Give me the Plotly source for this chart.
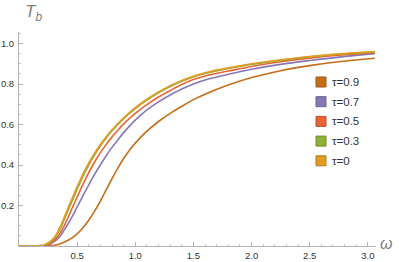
import plotly.graph_objects as go

# ---- data ----
omega = [0, 0.1, 0.2, 0.25, 0.3, 0.35, 0.4, 0.45, 0.5, 0.55, 0.6, 0.65, 0.7, 0.75, 0.8,
         0.85, 0.9, 0.95, 1.0, 1.1, 1.2, 1.3, 1.4, 1.5, 1.6, 1.8, 2.0, 2.25, 2.5, 2.75, 3.06]

T_tau0 = [0, 0, 0.004, 0.015, 0.040, 0.090, 0.157, 0.226, 0.292, 0.355, 0.410, 0.458,
          0.501, 0.540, 0.574, 0.605, 0.633, 0.659, 0.683, 0.725, 0.761, 0.792, 0.818,
          0.839, 0.856, 0.880, 0.900, 0.920, 0.936, 0.949, 0.961]
T_tau03 = [0, 0, 0.003, 0.013, 0.035, 0.080, 0.145, 0.213, 0.280, 0.344, 0.400, 0.450,
           0.494, 0.534, 0.569, 0.600, 0.629, 0.655, 0.679, 0.721, 0.757, 0.788, 0.814,
           0.835, 0.852, 0.877, 0.897, 0.917, 0.934, 0.947, 0.959]
T_tau05 = [0, 0, 0.002, 0.009, 0.027, 0.060, 0.113, 0.178, 0.242, 0.304, 0.363, 0.415,
           0.461, 0.502, 0.539, 0.572, 0.603, 0.630, 0.655, 0.698, 0.736, 0.768, 0.798,
           0.822, 0.840, 0.864, 0.887, 0.910, 0.928, 0.942, 0.955]
T_tau07 = [0, 0, 0.001, 0.006, 0.020, 0.046, 0.089, 0.138, 0.193, 0.248, 0.302, 0.354,
           0.401, 0.446, 0.487, 0.524, 0.560, 0.592, 0.622, 0.672, 0.712, 0.746, 0.775,
           0.800, 0.820, 0.848, 0.873, 0.897, 0.916, 0.933, 0.950]
T_tau09 = [0, 0, 0, 0.002, 0.004, 0.010, 0.022, 0.038, 0.060, 0.090, 0.127, 0.172,
           0.222, 0.278, 0.333, 0.385, 0.432, 0.473, 0.508, 0.567, 0.615, 0.655, 0.690,
           0.723, 0.750, 0.795, 0.832, 0.866, 0.891, 0.910, 0.927]

series_names = ["τ=0", "τ=0.3", "τ=0.5", "τ=0.7", "τ=0.9"]
series_values = [T_tau0, T_tau03, T_tau05, T_tau07, T_tau09]
colors = ["#E19C24", "#8FB032", "#EB6235", "#8778B3", "#C56E1A"]
edge_colors = ["#B47D1D", "#728D28", "#BC4E2A", "#6C608F", "#9E5815"]

x_tickvals = [0.5, 1.0, 1.5, 2.0, 2.5, 3.0]
x_ticktext = ["0.5", "1.0", "1.5", "2.0", "2.5", "3.0"]
y_tickvals = [0.2, 0.4, 0.6, 0.8, 1.0]
y_ticktext = ["0.2", "0.4", "0.6", "0.8", "1.0"]

# ---- layout geometry (pixels) ----
W, H = 399, 262
L, R, T, B = 19, 23, 32, 16
pw, ph = W - L - R, H - T - B

fig = go.Figure()
# draw τ=0.9 first so that τ=0 ends on top (as in reference)
for name, vals, col in reversed(list(zip(series_names, series_values, colors))):
    fig.add_trace(go.Scatter(x=omega, y=vals, mode="lines", name=name,
                             line=dict(color=col, width=1.6, shape="spline", smoothing=1.0),
                             showlegend=False))

def px2px(xp):
    return (xp - L) / pw

def py2py(yp):
    return (H - B - yp) / ph

# manual legend (top to bottom: τ=0.9 ... τ=0)
legend_order = list(reversed(range(len(series_names))))
for i, k in enumerate(legend_order):
    cy = 82 + i * 19.7
    fig.add_shape(type="rect", xref="paper", yref="paper",
                  x0=px2px(316), x1=px2px(326), y0=py2py(cy + 5), y1=py2py(cy - 5),
                  fillcolor=colors[k], line=dict(color=edge_colors[k], width=1))
    fig.add_annotation(xref="paper", yref="paper", x=px2px(330), y=py2py(cy),
                       xanchor="left", yanchor="middle", showarrow=False,
                       text=series_names[k],
                       font=dict(family="Liberation Sans, Arial", size=11.5, color="#333333"))

# axis labels
fig.add_annotation(xref="paper", yref="paper", x=px2px(23), y=py2py(13),
                   xanchor="left", yanchor="middle", showarrow=False,
                   text="<i>T</i><sub><i>b</i></sub>",
                   font=dict(family="Liberation Sans, Arial", size=17, color="#808080"))
fig.add_annotation(xref="paper", yref="paper", x=px2px(378), y=py2py(243),
                   xanchor="left", yanchor="middle", showarrow=False,
                   text="<i>ω</i>",
                   font=dict(family="Liberation Sans, Arial", size=16, color="#808080"))

axis_common = dict(showgrid=False, zeroline=False, showline=True, linecolor="#b3b3b3",
                   linewidth=1, ticks="inside", ticklen=4, tickcolor="#b3b3b3",
                   automargin=False,
                   tickfont=dict(family="Liberation Sans, Arial", size=9.5, color="#333333"))

fig.update_layout(
    width=W, height=H,
    margin=dict(l=L, r=R, t=T, b=B, pad=0, autoexpand=False),
    paper_bgcolor="white", plot_bgcolor="white",
    xaxis=dict(range=[0, 3.07], tickmode="array", tickvals=x_tickvals, ticktext=x_ticktext,
               minor=dict(dtick=0.1, tick0=0, ticks="inside", ticklen=2, tickcolor="#c8c8c8"),
               ticklabelstandoff=1, **axis_common),
    yaxis=dict(range=[0, 1.057], tickmode="array", tickvals=y_tickvals, ticktext=y_ticktext,
               minor=dict(dtick=0.05, tick0=0, ticks="inside", ticklen=2, tickcolor="#c8c8c8"),
               ticklabelstandoff=2, **axis_common),
)

fig.write_html("out.html",
               config={"displayModeBar": False, "staticPlot": True},
               post_script="document.body.style.margin='0';document.body.style.overflow='hidden';")
